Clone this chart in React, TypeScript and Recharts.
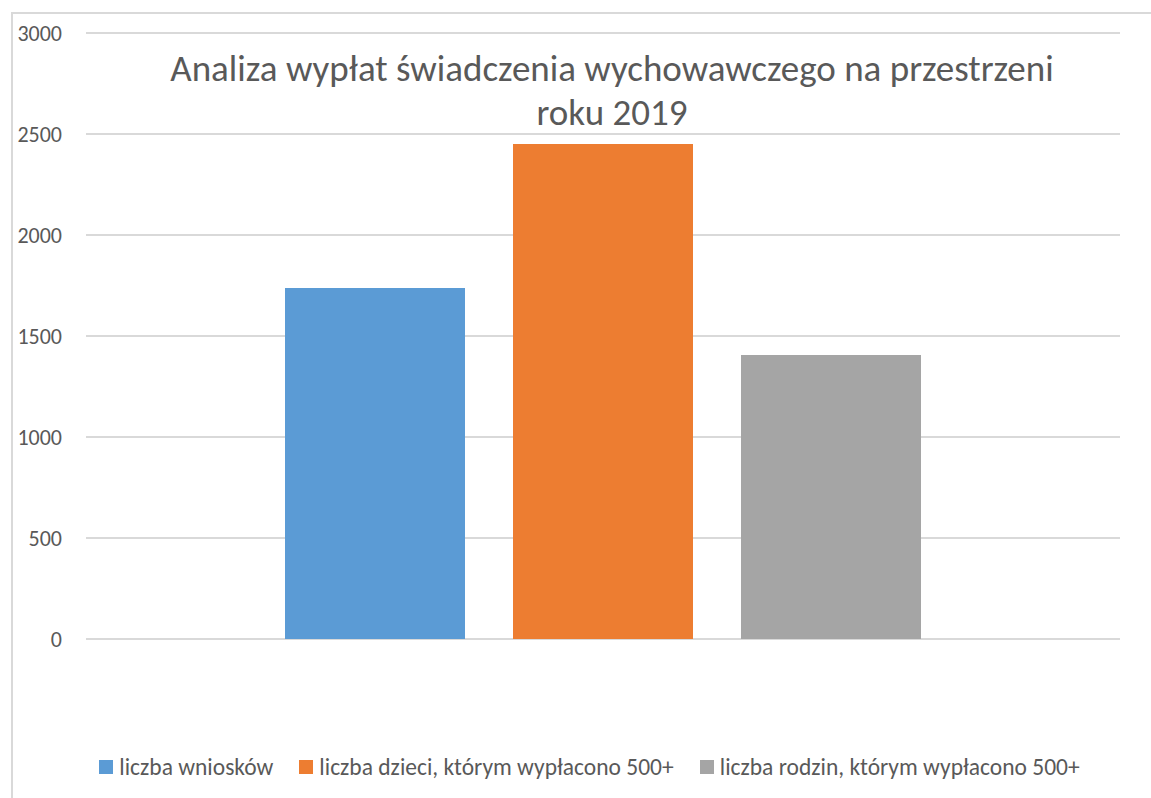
import React from 'react';
import { BarChart, Bar, XAxis, YAxis, CartesianGrid, Legend } from 'recharts';

const categories = ['2019'];
const wnioski = [1738];
const dzieci = [2450];
const rodziny = [1406];
const yTicks = [0, 500, 1000, 1500, 2000, 2500, 3000];

const series = [
    { key: 'wnioski', name: 'liczba wniosków', color: '#5b9bd5' },
    { key: 'dzieci', name: 'liczba dzieci, którym wypłacono 500+', color: '#ed7d31' },
    { key: 'rodziny', name: 'liczba rodzin, którym wypłacono 500+', color: '#a5a5a5' }
];

const data = categories.map((c, i) => ({
    name: c,
    wnioski: wnioski[i],
    dzieci: dzieci[i],
    rodziny: rodziny[i]
}));

const TEXT = '#595959';
const FONT = 'Calibri, Carlito, Lato, sans-serif';

// legend kept in series order (recharts sorts by name otherwise)
const ChartLegend = () => (
    <div style={{ display: 'flex', justifyContent: 'center', alignItems: 'center', height: 30, paddingLeft: 46 }}>
        {series.map((s, i) => (
            <div key={s.key} style={{ display: 'flex', alignItems: 'center', marginLeft: i === 0 ? 0 : 26 }}>
                <span style={{ width: 14, height: 14, background: s.color, marginRight: 6, display: 'inline-block' }} />
                <span style={{ color: TEXT, fontSize: 23.5, lineHeight: '30px' }}>{s.name}</span>
            </div>
        ))}
    </div>
);

export default function App() {
    return (
        <div
            style={{
                position: 'absolute',
                left: 11,
                top: 12,
                width: 1140,
                height: 786,
                borderTop: '2px solid #d9d9d9',
                borderLeft: '2px solid #d9d9d9',
                boxSizing: 'border-box',
                background: '#fff',
                fontFamily: FONT
            }}
        >
            <BarChart
                width={1138}
                height={784}
                data={data}
                margin={{ top: 19, right: 31, left: 0, bottom: 129 }}
                barSize={180}
                barGap={48}
            >
                <CartesianGrid vertical={false} stroke="#d9d9d9" strokeWidth={2} />
                <XAxis dataKey="name" hide />
                <YAxis
                    width={73}
                    domain={[0, 3000]}
                    ticks={yTicks}
                    axisLine={false}
                    tickLine={false}
                    tickSize={0}
                    tickMargin={24}
                    tick={{ fill: TEXT, fontSize: 22, fontFamily: FONT }}
                />
                <Legend
                    verticalAlign="bottom"
                    align="center"
                    content={() => <ChartLegend />}
                    wrapperStyle={{ bottom: 16, height: 30, fontFamily: FONT }}
                />
                {series.map((s) => (
                    <Bar key={s.key} dataKey={s.key} name={s.name} fill={s.color} isAnimationActive={false} />
                ))}
            </BarChart>
            <div
                style={{
                    position: 'absolute',
                    left: 0,
                    width: 1198,
                    top: 33,
                    textAlign: 'center',
                    color: TEXT,
                    fontSize: 37,
                    lineHeight: '44px',
                    pointerEvents: 'none'
                }}
            >
                Analiza wypłat świadczenia wychowawczego na przestrzeni
                <br />
                roku 2019
            </div>
        </div>
    );
}
